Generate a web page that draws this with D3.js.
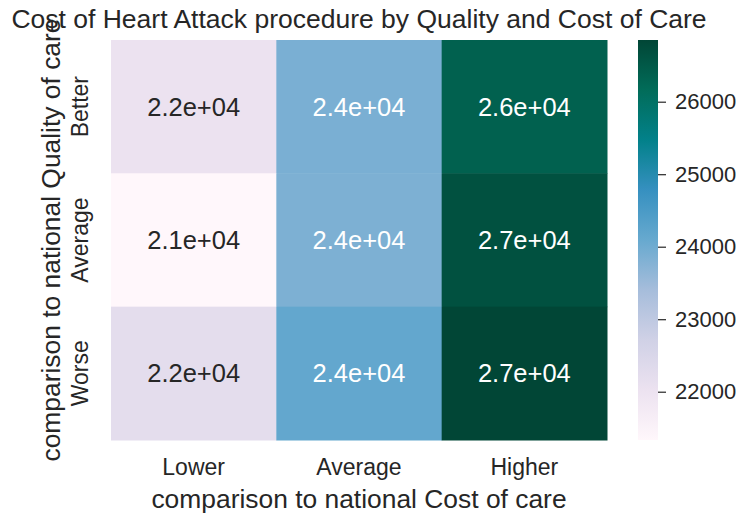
<!DOCTYPE html>
<html>
<head>
<meta charset="utf-8">
<script src="https://cdn.jsdelivr.net/npm/d3@7"></script>
<style>
  html, body { margin: 0; padding: 0; background: #fff; }
  svg text { font-family: "Liberation Sans", Arial, sans-serif; fill: #262626; }
</style>
</head>
<body>
<svg id="chart"></svg>
<script>
const width = 748;
const height = 522;

// data
const costLevels = ['Lower', 'Average', 'Higher'];
const qualityLevels = ['Better', 'Average', 'Worse'];
const betterRow = [22020, 23880, 26360];
const averageRow = [21334, 23850, 26650];
const worseRow = [22220, 24150, 26851];
const colorTicks = [22000, 23000, 24000, 25000, 26000];
// matplotlib PuBuGn stops
const puBuGn = ['#fff7fb', '#ece2f0', '#d0d1e6', '#a6bddb', '#67a9cf', '#3690c0', '#02818a', '#016c59', '#014636'];

const rows = [betterRow, averageRow, worseRow];
const cells = [];
rows.forEach((r, i) => r.forEach((v, j) => cells.push({ q: qualityLevels[i], c: costLevels[j], v: v })));

const vmin = d3.min(cells, d => d.v);
const vmax = d3.max(cells, d => d.v);

const margin = { left: 111, right: 141, top: 40, bottom: 82 };
const plotW = width - margin.left - margin.right;
const plotH = height - margin.top - margin.bottom;

const svg = d3.select('#chart')
    .attr('width', width)
    .attr('height', height);

const x = d3.scaleBand().domain(costLevels).range([margin.left, margin.left + plotW]);
const y = d3.scaleBand().domain(qualityLevels).range([margin.top, margin.top + plotH]);

const norm = d3.scaleLinear().domain([vmin, vmax]).range([0, 1]).clamp(true);
const cmap = d3.scaleLinear()
    .domain(puBuGn.map((_, i) => i / (puBuGn.length - 1)))
    .range(puBuGn)
    .interpolate(d3.interpolateRgb);
const color = v => cmap(norm(v));

// relative luminance, same rule seaborn uses for annot colour
const luminance = c => {
    const rgb = d3.rgb(c);
    const lin = u => {
        u = u / 255;
        return u <= 0.03928 ? u / 12.92 : Math.pow((u + 0.055) / 1.055, 2.4);
    };
    return 0.2126 * lin(rgb.r) + 0.7152 * lin(rgb.g) + 0.0722 * lin(rgb.b);
};

// cells
svg.append('g')
    .selectAll('rect')
    .data(cells)
    .join('rect')
    .attr('x', d => x(d.c))
    .attr('y', d => y(d.q))
    .attr('width', x.bandwidth() + 0.5)
    .attr('height', y.bandwidth() + 0.5)
    .attr('fill', d => color(d.v));

// annotations
svg.append('g')
    .selectAll('text')
    .data(cells)
    .join('text')
    .attr('x', d => x(d.c) + x.bandwidth() / 2)
    .attr('y', d => y(d.q) + y.bandwidth() / 2)
    .attr('text-anchor', 'middle')
    .attr('dominant-baseline', 'central')
    .attr('font-size', 25.5)
    .style('fill', d => luminance(color(d.v)) > 0.408 ? '#262626' : '#ffffff')
    .text(d => d.v.toExponential(1).replace(/e\+(\d)$/, 'e+0$1'));

// x tick labels
svg.append('g')
    .selectAll('text')
    .data(costLevels)
    .join('text')
    .attr('x', d => x(d) + x.bandwidth() / 2)
    .attr('y', margin.top + plotH + 35)
    .attr('text-anchor', 'middle')
    .attr('font-size', 23)
    .text(d => d);

// y tick labels
svg.append('g')
    .selectAll('text')
    .data(qualityLevels)
    .join('text')
    .attr('transform', d => `translate(${margin.left - 23},${y(d) + y.bandwidth() / 2}) rotate(-90)`)
    .attr('text-anchor', 'middle')
    .attr('font-size', 23)
    .text(d => d);

// axis labels
svg.append('text')
    .attr('x', margin.left + plotW / 2)
    .attr('y', margin.top + plotH + 68)
    .attr('text-anchor', 'middle')
    .attr('font-size', 26.4)
    .text('comparison to national Cost of care');

svg.append('text')
    .attr('transform', `translate(60,${margin.top + plotH / 2}) rotate(-90)`)
    .attr('text-anchor', 'middle')
    .attr('font-size', 26.4)
    .text('comparison to national Quality of care');

// title
svg.append('text')
    .attr('x', margin.left + plotW / 2)
    .attr('y', 28)
    .attr('text-anchor', 'middle')
    .attr('font-size', 26.5)
    .text('Cost of Heart Attack procedure by Quality and Cost of Care');

// colorbar
const cbX = 638, cbW = 20;
const cbScale = d3.scaleLinear().domain([vmin, vmax]).range([margin.top + plotH, margin.top]);
const defs = svg.append('defs');
const grad = defs.append('linearGradient')
    .attr('id', 'cbgrad')
    .attr('x1', 0).attr('y1', 1).attr('x2', 0).attr('y2', 0);
grad.selectAll('stop')
    .data(puBuGn)
    .join('stop')
    .attr('offset', (d, i) => i / (puBuGn.length - 1))
    .attr('stop-color', d => d);

svg.append('rect')
    .attr('x', cbX)
    .attr('y', margin.top)
    .attr('width', cbW)
    .attr('height', plotH)
    .attr('fill', 'url(#cbgrad)');

const cbAxis = d3.axisRight(cbScale)
    .tickValues(colorTicks)
    .tickSize(8)
    .tickPadding(9)
    .tickFormat(d3.format('d'));
const gCb = svg.append('g')
    .attr('transform', `translate(${cbX + cbW},0)`)
    .call(cbAxis);
gCb.select('.domain').remove();
gCb.selectAll('line').attr('stroke', '#262626').attr('stroke-width', 1.2);
gCb.selectAll('text').attr('font-size', 22).style('fill', '#262626');
</script>
</body>
</html>
